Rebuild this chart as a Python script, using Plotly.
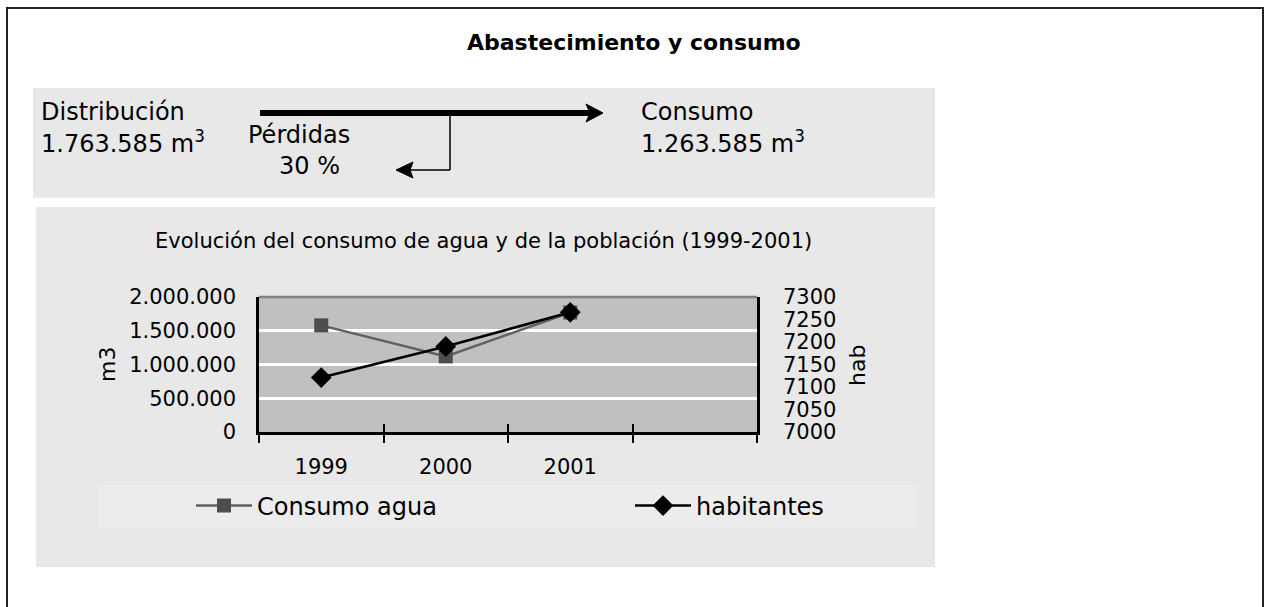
import plotly.graph_objects as go

# ---- data ----
years = ["1999", "2000", "2001"]
consumo_agua = [1580000, 1120000, 1770000]
habitantes = [7121, 7190, 7266]
distribucion_m3 = 1763585
consumo_m3 = 1263585
perdidas_pct = 30

W, H = 1271, 607


def px(x):
    return x / W


def py(y):
    return 1 - y / H


def fmt(n):
    return f"{n:,}".replace(",", ".")


FONT = "DejaVu Sans, Arial, sans-serif"
xpos = list(range(len(years)))
ncat = len(years) + 1
bounds = [i - 0.5 for i in range(ncat + 1)]

fig = go.Figure()
fig.add_trace(go.Scatter(
    x=xpos, y=consumo_agua, name="Consumo agua", mode="lines+markers",
    line=dict(color="#606060", width=2.5),
    marker=dict(symbol="square", size=14, color="#4d4d4d"),
    yaxis="y", xaxis="x"))
fig.add_trace(go.Scatter(
    x=xpos, y=habitantes, name="habitantes", mode="lines+markers",
    line=dict(color="#000000", width=2.5),
    marker=dict(symbol="diamond", size=16, color="#000000"),
    yaxis="y2", xaxis="x"))
fig.add_trace(go.Scatter(x=[None], y=[None], xaxis="x2", yaxis="y",
                         showlegend=False, hoverinfo="skip"))

shapes = []
# outer border
shapes.append(dict(type="rect", xref="paper", yref="paper",
                   x0=px(7), x1=px(1263), y0=py(650), y1=py(8),
                   line=dict(color="#222", width=2), fillcolor="white", layer="below"))
# top panel
shapes.append(dict(type="rect", xref="paper", yref="paper",
                   x0=px(33), x1=px(935), y0=py(198), y1=py(88),
                   line=dict(width=0), fillcolor="#e8e8e8", layer="below"))
# chart panel
shapes.append(dict(type="rect", xref="paper", yref="paper",
                   x0=px(36), x1=px(935), y0=py(567), y1=py(207),
                   line=dict(width=0), fillcolor="#e8e8e8", layer="below"))
# legend band
shapes.append(dict(type="rect", xref="paper", yref="paper",
                   x0=px(98), x1=px(917), y0=py(527), y1=py(485),
                   line=dict(width=0), fillcolor="#ececec", layer="below"))
# plot background
shapes.append(dict(type="rect", xref="x domain", yref="y domain",
                   x0=0, x1=1, y0=0, y1=1,
                   line=dict(width=0), fillcolor="#c0c0c0", layer="below"))
# plot top border (grey)
shapes.append(dict(type="line", xref="x domain", yref="y domain",
                   x0=0, x1=1, y0=1, y1=1,
                   line=dict(color="#808080", width=2.5)))

# flow arrows
shapes.append(dict(type="line", xref="paper", yref="paper",
                   x0=px(260), x1=px(592), y0=py(113), y1=py(113),
                   line=dict(color="black", width=6)))
shapes.append(dict(type="path", xref="paper", yref="paper",
                   path=f"M {px(586)} {py(104)} L {px(603)} {py(113)} L {px(586)} {py(122)} L {px(590)} {py(113)} Z",
                   fillcolor="black", line=dict(color="black", width=1)))
shapes.append(dict(type="line", xref="paper", yref="paper",
                   x0=px(450), x1=px(450), y0=py(113), y1=py(170),
                   line=dict(color="black", width=1.5)))
shapes.append(dict(type="line", xref="paper", yref="paper",
                   x0=px(450), x1=px(408), y0=py(170), y1=py(170),
                   line=dict(color="black", width=1.5)))
shapes.append(dict(type="path", xref="paper", yref="paper",
                   path=f"M {px(413)} {py(162)} L {px(396)} {py(170)} L {px(413)} {py(178)} L {px(410)} {py(170)} Z",
                   fillcolor="black", line=dict(color="black", width=1)))

ann = []


def text(x, y, s, size=24, xanchor="left", bold=False):
    ann.append(dict(x=px(x), y=py(y), xref="paper", yref="paper", text=(f"<b>{s}</b>" if bold else s),
                    showarrow=False, xanchor=xanchor, yanchor="middle",
                    font=dict(family=FONT, size=size, color="black")))


text(634, 42, "Abastecimiento y consumo", size=22, xanchor="center", bold=True)
text(39, 112, "Distribución")
text(39, 142, f"{fmt(distribucion_m3)} m<sup>3</sup>")
text(299, 135, "Pérdidas", xanchor="center")
text(309, 166, f"{perdidas_pct} %", xanchor="center")
text(639, 112, "Consumo")
text(639, 142, f"{fmt(consumo_m3)} m<sup>3</sup>")
text(483, 241, "Evolución del consumo de agua y de la población (1999-2001)", size=21, xanchor="center")
ann.append(dict(x=px(107), y=py(365), xref="paper", yref="paper", text="m3", textangle=-90,
                showarrow=False, xanchor="center", yanchor="middle",
                font=dict(family=FONT, size=22, color="black")))
ann.append(dict(x=px(857), y=py(366), xref="paper", yref="paper", text="hab", textangle=-90,
                showarrow=False, xanchor="center", yanchor="middle",
                font=dict(family=FONT, size=22, color="black")))

fig.update_layout(
    template="none",
    width=W, height=H, margin=dict(l=0, r=0, t=0, b=0, pad=0, autoexpand=False),
    paper_bgcolor="white", plot_bgcolor="rgba(0,0,0,0)",
    separators=",.",
    font=dict(family=FONT, size=21, color="black"),
    shapes=shapes, annotations=ann,
    xaxis=dict(domain=[px(259), px(757)], range=[bounds[0], bounds[-1]],
               tickvals=xpos, ticktext=years, ticks="", showgrid=False, zeroline=False,
               showline=True, linecolor="black", linewidth=2.5,
               tickfont=dict(size=21), ticklabelstandoff=14,
               minor=dict(tickvals=bounds, ticks="outside", ticklen=8,
                          tickcolor="black", tickwidth=2, showgrid=False)),
    xaxis2=dict(overlaying="x", matches="x", domain=[px(259), px(757)], anchor="y",
                tickvals=bounds, ticks="inside", ticklen=8, tickcolor="black", tickwidth=2,
                showticklabels=False, showgrid=False, zeroline=False, showline=False),
    yaxis=dict(domain=[py(432), py(297)], range=[0, 2000000], dtick=500000,
               tickformat=",d", showgrid=True, gridcolor="white", gridwidth=2.5,
               zeroline=False, showline=True, linecolor="black", linewidth=2.5,
               ticks="", ticklabelstandoff=16, tickfont=dict(size=21)),
    yaxis2=dict(overlaying="y", side="right", anchor="x", range=[7000, 7300], dtick=50,
                showgrid=False, zeroline=False, showline=True, linecolor="black",
                linewidth=2.5, ticks="", ticklabelstandoff=19, tickfont=dict(size=21)),
    legend=dict(orientation="h", x=px(191), y=py(506), xanchor="left", yanchor="middle",
                bgcolor="rgba(0,0,0,0)", font=dict(family=FONT, size=24),
                entrywidth=368, entrywidthmode="pixels", itemwidth=56),
    showlegend=True,
)

fig.write_html("out.html", config={"displayModeBar": False},
               post_script="document.body.style.margin='0';")
